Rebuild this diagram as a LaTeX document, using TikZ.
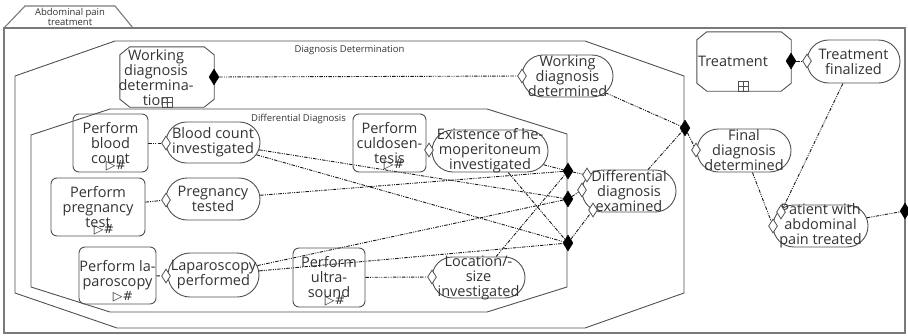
\documentclass[tikz,border=0pt]{standalone}
\usepackage{fontspec}
\setmainfont{Open Sans}
\newfontfamily\symf{DejaVu Sans}
\usetikzlibrary{shapes.geometric,shapes.misc}
\definecolor{bordc}{HTML}{505050}
\definecolor{txtc}{HTML}{333333}
\definecolor{framec}{HTML}{505050}
\definecolor{outerc}{HTML}{7A7A7A}
\definecolor{flowc}{HTML}{1A1A1A}
\pgfdeclarelayer{bg}
\pgfsetlayers{bg,main}
\tikzset{
  ntext/.style={inner sep=0pt, align=center, text=txtc, font=\fontsize{14.5}{15}\selectfont},
  lbl/.style={inner sep=0pt, align=center, text=txtc, font=\fontsize{9.5}{10}\selectfont},
  taskbox/.style={rectangle, draw=bordc, line width=0.9pt, rounded corners=6pt, inner sep=0pt},
  evt/.style={rounded rectangle, draw=bordc, line width=0.9pt, inner sep=0pt},
  subproc/.style={rectangle, inner sep=0pt},
  octl/.style={draw=bordc, line width=0.9pt, line join=miter},
  sdia/.style={diamond, fill=black, draw=black, line width=0.5pt, inner sep=0pt, minimum width=10pt, minimum height=16pt},
  hdia/.style={diamond, fill=white, draw=bordc, line width=0.8pt, inner sep=0pt, minimum width=9pt, minimum height=14pt},
  flow/.style={draw=flowc, line width=0.9pt, dash pattern=on 3.5pt off 1.2pt on 1pt off 1.2pt on 1pt off 1.2pt},
  framel/.style={draw=framec, line width=0.9pt},
  outerl/.style={draw=outerc, line width=1.1pt},
  tmarker/.style={inner sep=0pt, text=txtc, font=\symf\fontsize{12.5}{13}\selectfont},
  plusbox/.style={rectangle, draw=bordc, line width=0.7pt, minimum size=10pt, inner sep=0pt,
    path picture={\draw[bordc, line width=0.7pt] (path picture bounding box.south) -- (path picture bounding box.north)
      (path picture bounding box.west) -- (path picture bounding box.east);}}
}
% name, style, position, width, height, text
\newcommand\shp[6]{%
  \node[#2, minimum width=#4, minimum height=#5] (#1) at (#3) {};
  \node[ntext] (#1t) at (#1.center) {#6};}
% chamfered outline around a named node
\newcommand\octo[1]{%
  \draw[octl] ([xshift=10pt]#1.north west) -- ([xshift=-10pt]#1.north east) -- ([yshift=-8pt]#1.north east)
    -- ([yshift=8pt]#1.south east) -- ([xshift=-10pt]#1.south east) -- ([xshift=10pt]#1.south west)
    -- ([yshift=8pt]#1.south west) -- ([yshift=-8pt]#1.north west) -- cycle;}
\begin{document}
\begin{tikzpicture}[x=1pt,y=-1pt]
\useasboundingbox (0,0) rectangle (908,335);

% labels of frames
\node[lbl] (labA) at (70,17) {Abdominal pain\\treatment};
\node[lbl] (labB) at (349.5,50.5) {Diagnosis Determination};
\node[lbl] (labC) at (298.5,119.5) {Differential Diagnosis};

% sub-processes
\node[subproc, minimum width=94pt, minimum height=60pt] (wdet) at (167,77) {};
\octo{wdet}
\node[ntext] (wdett) at (156,78) {Working\\diagnosis\\determina-\\tion};
\node[plusbox] (wdetp) at (167,102) {};
\node[subproc, minimum width=94pt, minimum height=59pt] (trt) at (744,61.5) {};
\octo{trt}
\node[ntext] (trtt) at (733,61) {Treatment};
\node[plusbox] (trtp) at (743.5,86) {};

% tasks
\shp{pbc}{taskbox}{110.5,143}{75pt}{58pt}{Perform\\blood\\count}
\shp{ppt}{taskbox}{98,207}{94pt}{58pt}{Perform\\pregnancy\\test}
\shp{plp}{taskbox}{117.5,275.5}{77pt}{57pt}{Perform la-\\paroscopy}
\shp{pus}{taskbox}{329,277.5}{72pt}{59pt}{Perform\\ultra-\\sound}
\shp{pcd}{taskbox}{389.5,143}{73pt}{58pt}{Perform\\culdosen-\\tesis}
\node[tmarker] (mpbc) at (116,166) {▷\#};
\node[tmarker] (mppt) at (104,230) {▷\#};
\node[tmarker] (mplp) at (123,297) {▷\#};
\node[tmarker] (mpus) at (335,301) {▷\#};
\node[tmarker] (mpcd) at (394,165) {▷\#};

% events
\shp{bci}{evt}{213,142.5}{94pt}{41pt}{Blood count\\investigated}
\shp{pgt}{evt}{213,199}{94pt}{42pt}{Pregnancy\\tested}
\shp{lpp}{evt}{213.5,275}{91pt}{44pt}{Laparoscopy\\performed}
\shp{exi}{evt}{490,151}{116pt}{42pt}{Existence of he-\\moperitoneum\\investigated}
\shp{loc}{evt}{478.5,277.5}{93pt}{41pt}{Location/-\\size\\investigated}
\shp{dde}{evt}{629,191}{94pt}{42pt}{Differential\\diagnosis\\examined}
\shp{wdd}{evt}{567.5,76}{91pt}{42pt}{Working\\diagnosis\\determined}
\shp{fdd}{evt}{744,150.5}{94pt}{43pt}{Final\\diagnosis\\determined}
\shp{pat}{evt}{820.5,226}{95pt}{42pt}{Patient with\\abdominal\\pain treated}
\shp{tfn}{evt}{853.5,61.5}{93pt}{43pt}{Treatment\\finalized}

% solid diamonds
\node[sdia] (dw) at (214,77) {};
\node[sdia] (dt) at (791,61) {};
\node[sdia] (d1) at (568,171) {};
\node[sdia] (d2) at (568,199) {};
\node[sdia] (d3) at (568,243) {};
\node[sdia] (d4) at (685,128) {};
\node[sdia] (d5) at (905,211) {};

% hollow diamonds
\node[hdia] (hbc) at (166,143) {};
\node[hdia] (hpt) at (166,200) {};
\node[hdia] (hlp) at (166,276) {};
\node[hdia] (hex) at (429,150) {};
\node[hdia] (hloc) at (432,277) {};
\node[hdia] (hwd) at (522,76) {};
\node[hdia] (htf) at (807,61) {};
\node[hdia] (hfd) at (696,150) {};
\node[hdia] (hp2) at (781,212) {};
\node[hdia] (hp1) at (773,226) {};
\node[hdia] (h1) at (587,175) {};
\node[hdia] (h2) at (582,190) {};
\node[hdia] (h3) at (593,210) {};

\begin{pgfonlayer}{bg}
  \draw[outerl] (4,28) -- (25,6) -- (115,6) -- (133,28);
  \draw[outerl] (4,28) rectangle (905,333);
  \draw[framel] (15,76) -- (115,41) -- (585,41) -- (684,76) -- (684,293) -- (585,328) -- (117,328) -- (15,293) -- cycle;
  \draw[framel] (31,135) -- (110,109) -- (487,109) -- (567,134) -- (567,287) -- (487,312) -- (110,312) -- (31,287) -- cycle;

  \draw[flow] (dw) -- (hwd);
  \draw[flow] (dt) -- (htf);
  \draw[flow] (pbc) -- (hbc);
  \draw[flow] (ppt) -- (hpt);
  \draw[flow] (plp) -- (hlp);
  \draw[flow] (pus) -- (hloc);
  \draw[flow] (pcd) -- (hex);
  \draw[flow] (bci) -- (d2);
  \draw[flow] (bci) -- (d3);
  \draw[flow] (pgt) -- (d1);
  \draw[flow] (exi) -- (d1);
  \draw[flow] (exi) -- (d3);
  \draw[flow] (lpp) -- (d2);
  \draw[flow] (lpp) -- (d3);
  \draw[flow] (loc) -- (d1);
  \draw[flow] (d1) -- (h1);
  \draw[flow] (d2) -- (h2);
  \draw[flow] (d3) -- (h3);
  \draw[flow] (dde) -- (d4);
  \draw[flow] (wdd) -- (d4);
  \draw[flow] (d4) -- (hfd);
  \draw[flow] (fdd) -- (hp1);
  \draw[flow] (tfn) -- (hp2);
  \draw[flow] (pat) -- (d5);
\end{pgfonlayer}
\end{tikzpicture}
\end{document}
